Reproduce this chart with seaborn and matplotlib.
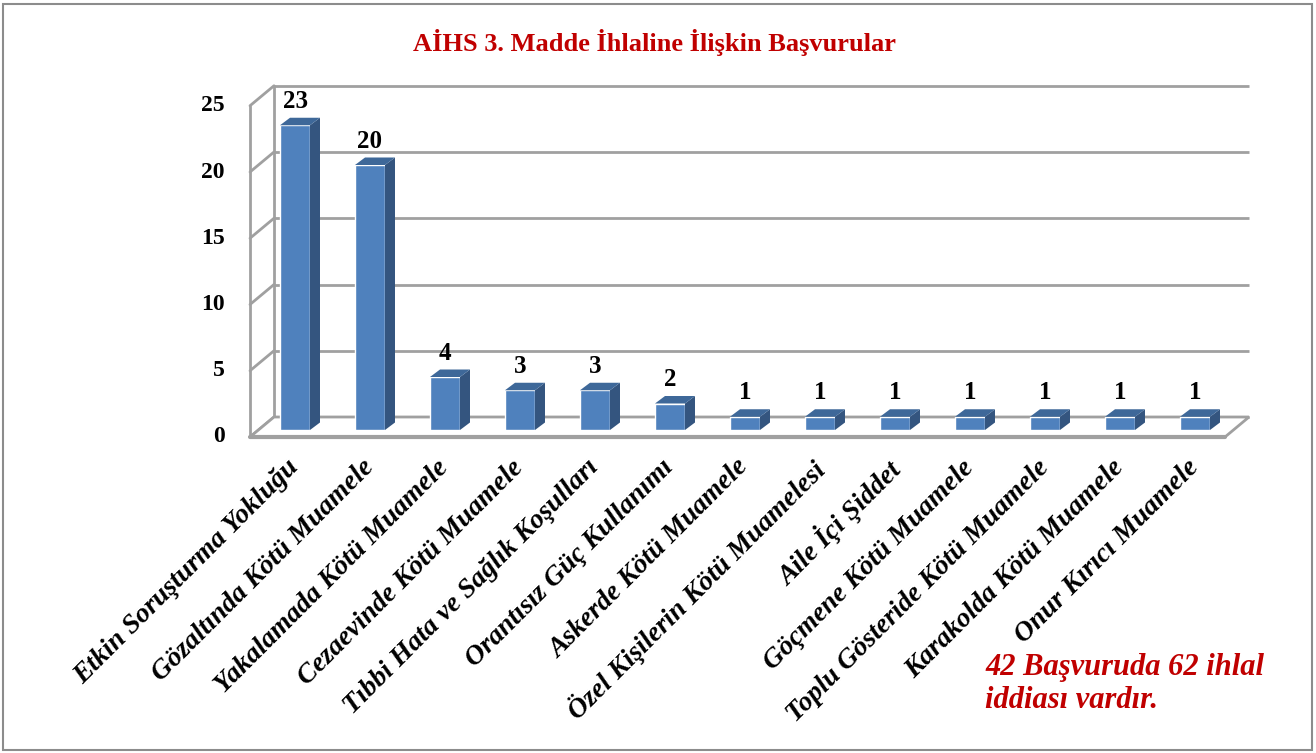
import numpy as np
import matplotlib
matplotlib.use('Agg')
import matplotlib.pyplot as plt
import matplotlib.transforms as mtransforms
import seaborn as sns
from matplotlib.patches import Polygon, Rectangle

# chart data
categories = [
    'Etkin Soruşturma Yokluğu', 'Gözaltında Kötü Muamele', 'Yakalamada Kötü Muamele',
    'Cezaevinde Kötü Muamele', 'Tıbbi Hata ve Sağlık Koşulları', 'Orantısız Güç Kullanımı',
    'Askerde Kötü Muamele', 'Özel Kişilerin Kötü Muamelesi', 'Aile İçi Şiddet',
    'Göçmene Kötü Muamele', 'Toplu Gösteride Kötü Muamele', 'Karakolda Kötü Muamele',
    'Onur Kırıcı Muamele',
]
counts = [23, 20, 4, 3, 3, 2, 1, 1, 1, 1, 1, 1, 1]
y_ticks = [0, 5, 10, 15, 20, 25]
title = 'AİHS 3. Madde İhlaline İlişkin Başvurular'
note = '42 Başvuruda 62 ihlal\niddiası vardır.'

# colours
FRONT = '#4F81BD'
SIDE = '#34557F'
TOP = '#3E6899'
GRID = '#A0A0A0'
RED = '#C00000'

sns.set_style('white')
plt.rcParams['font.family'] = ['Liberation Serif', 'DejaVu Serif']

W, H = 1316, 753
fig = plt.figure(figsize=(W / 100, H / 100), dpi=100)
fig.patch.set_facecolor('white')

# plane of the bar fronts, in pixels (origin top-left)
left_px, right_px = 257.5, 1232.5
base_px, top_px = 430, 430 - 25 * 13.25
ax = fig.add_axes([left_px / W, (H - base_px) / H,
                   (right_px - left_px) / W, (base_px - top_px) / H])
ax.set_facecolor('none')

sns.barplot(x=categories, y=counts, color=FRONT, saturation=1, width=0.4,
            ax=ax, zorder=3)
n = len(categories)
ax.set_xlim(-0.5, n - 0.5)
ax.set_ylim(0, 25)

# pixel -> data helpers for the fake depth
ppx = (right_px - left_px) / n
ppy = (base_px - top_px) / 25.0


def off(dx, dy):
    return dx / ppx, dy / ppy


x0, x1 = ax.get_xlim()
fx, fy = off(-7.5, -7)     # front plane
bx, by = off(16.5, 13)     # back wall
dx, dy = off(10, 7.5)      # bar depth

# back wall gridlines + left wall diagonals
for t in y_ticks:
    ax.plot([x0 + bx, x1 + bx], [t + by, t + by], color=GRID, lw=2,
            clip_on=False, zorder=1, solid_capstyle='butt')
    ax.plot([x0 + fx, x0 + bx], [t + fy, t + by], color=GRID, lw=2,
            clip_on=False, zorder=1)
ax.plot([x0 + bx, x0 + bx], [by, 25 + by], color=GRID, lw=2, clip_on=False, zorder=1)
ax.plot([x0 + fx, x0 + fx], [fy, 25 + fy], color=GRID, lw=2, clip_on=False, zorder=1)

# floor
floor = Polygon([(x0 + fx, fy), (x1 + fx, fy), (x1 + bx, by), (x0 + bx, by)],
                closed=True, facecolor='white', edgecolor=GRID, lw=2,
                clip_on=False, zorder=2)
ax.add_patch(floor)
ax.plot([x0 + fx, x1 + fx], [fy, fy], color=GRID, lw=3, clip_on=False, zorder=2)

# side and top faces of each bar
for p in ax.patches[:]:
    if not isinstance(p, Rectangle) or p.get_height() <= 0:
        continue
    xl = p.get_x()
    xr = xl + p.get_width()
    h = p.get_height()
    side = Polygon([(xr, 0), (xr + dx, dy), (xr + dx, h + dy), (xr, h)],
                   closed=True, facecolor=SIDE, edgecolor='none', zorder=3,
                   clip_on=False)
    top = Polygon([(xl, h), (xr, h), (xr + dx, h + dy), (xl + dx, h + dy)],
                  closed=True, facecolor=TOP, edgecolor='none', zorder=3,
                  clip_on=False)
    ax.add_patch(side)
    ax.add_patch(top)

ax.bar_label(ax.containers[0], labels=[str(v) for v in counts], padding=9,
             fontsize=18, fontweight='bold', color='black')

# y tick labels on the front plane
for t in y_ticks:
    ax.text(x0 + fx - 25 / ppx, t + fy, str(t), ha='right', va='center',
            fontsize=17, fontweight='bold', color='black', clip_on=False)

for s in ax.spines.values():
    s.set_visible(False)
ax.set_yticks([])
ax.set_xlabel('')
ax.set_ylabel('')
ax.set_xticks(range(n))
ax.set_xticklabels(categories, rotation=45, ha='right', rotation_mode='anchor',
                   fontsize=20, fontweight='bold', fontstyle='italic',
                   color='black')
ax.tick_params(axis='x', length=0, pad=18)
shift = mtransforms.ScaledTranslation(-9 / 100, 0, fig.dpi_scale_trans)
for lab in ax.get_xticklabels():
    lab.set_transform(lab.get_transform() + shift)

fig.text(654.5 / W, (H - 42) / H, title, ha='center', va='center',
         fontsize=19, fontweight='bold', color=RED)
fig.text(985 / W, (H - 684) / H, note, ha='left', va='center', fontsize=22,
         fontweight='bold', fontstyle='italic', color=RED, linespacing=1.2)

# outer frame
fig.patches.append(Rectangle((3 / W, 3 / H), (W - 7) / W, (H - 7) / H,
                             transform=fig.transFigure, fill=False,
                             edgecolor='#8C8C8C', lw=1.5))

fig.savefig('out.png', dpi=100)
